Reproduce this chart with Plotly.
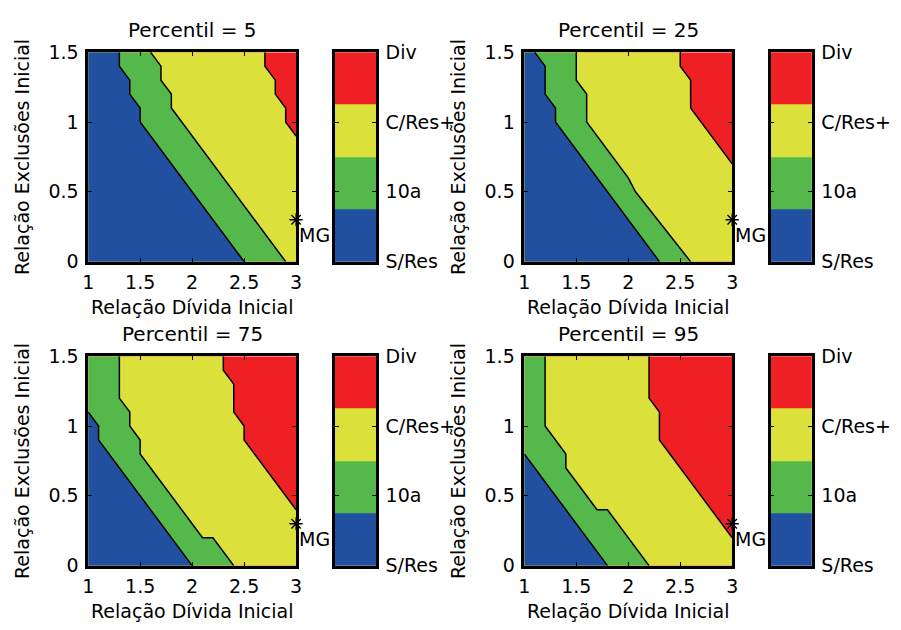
import plotly.graph_objects as go

# Axis extents and categories
x_lim = [1.0, 3.0]
y_lim = [0.0, 1.5]
x_ticks = [1, 1.5, 2, 2.5, 3]
y_ticks = [0, 0.5, 1, 1.5]
level_names = ["S/Res", "10a", "C/Res+", "Div"]
level_values = [1, 2, 3, 4]
level_colors = ["#2150A1", "#55B84A", "#DCE03A", "#EE2024"]
percentis = [5, 25, 75, 95]
mg_x = 3.0
mg_y = 0.3

# Region boundaries (S/Res|10a, 10a|C/Res+, C/Res+|Div) for each percentile
p05_b1_x = [1.3, 1.3, 1.4, 1.4, 1.5, 1.5, 2.5]
p05_b1_y = [1.5, 1.4, 1.3, 1.2, 1.1, 1.0, 0.0]
p05_b2_x = [1.6, 1.7, 1.7, 1.8, 1.8, 2.9]
p05_b2_y = [1.5, 1.4, 1.3, 1.2, 1.1, 0.0]
p05_b3_x = [2.7, 2.7, 2.8, 2.8, 2.9, 2.9, 3.0]
p05_b3_y = [1.5, 1.4, 1.3, 1.2, 1.1, 1.0, 0.9]

p25_b1_x = [1.1, 1.2, 1.2, 1.3, 1.3, 2.3]
p25_b1_y = [1.5, 1.4, 1.2, 1.1, 1.0, 0.0]
p25_b2_x = [1.5, 1.5, 1.6, 1.6, 2.0, 2.07, 2.6]
p25_b2_y = [1.5, 1.3, 1.2, 1.0, 0.6, 0.5, 0.0]
p25_b3_x = [2.5, 2.5, 2.6, 2.6, 3.0]
p25_b3_y = [1.5, 1.4, 1.3, 1.1, 0.7]

p75_b1_x = [1.0, 1.1, 1.1, 2.0]
p75_b1_y = [1.1, 1.0, 0.9, 0.0]
p75_b2_x = [1.3, 1.3, 1.4, 1.4, 1.5, 1.5, 2.1, 2.2, 2.4]
p75_b2_y = [1.5, 1.2, 1.1, 1.0, 0.9, 0.8, 0.2, 0.2, 0.0]
p75_b3_x = [2.3, 2.3, 2.4, 2.4, 2.5, 2.5, 3.0]
p75_b3_y = [1.5, 1.4, 1.3, 1.1, 1.0, 0.9, 0.4]

p95_b1_x = [1.0, 1.8]
p95_b1_y = [0.8, 0.0]
p95_b2_x = [1.2, 1.2, 1.4, 1.4, 1.7, 1.8, 2.2]
p95_b2_y = [1.5, 1.0, 0.8, 0.7, 0.4, 0.4, 0.0]
p95_b3_x = [2.2, 2.2, 2.3, 2.3, 3.0]
p95_b3_y = [1.5, 1.2, 1.1, 0.9, 0.2]

boundaries = [
    [(p05_b1_x, p05_b1_y), (p05_b2_x, p05_b2_y), (p05_b3_x, p05_b3_y)],
    [(p25_b1_x, p25_b1_y), (p25_b2_x, p25_b2_y), (p25_b3_x, p25_b3_y)],
    [(p75_b1_x, p75_b1_y), (p75_b2_x, p75_b2_y), (p75_b3_x, p75_b3_y)],
    [(p95_b1_x, p95_b1_y), (p95_b2_x, p95_b2_y), (p95_b3_x, p95_b3_y)],
]

W, H = 901, 630
FONT = "DejaVu Sans"
FS = 19

# Panel placement in pixels: plot left/right, colorbar left/right, top/bottom
cols = [(83.3, 294.0, 333.3, 375.0), (525.3, 736.0, 775.0, 816.7)]
rows = [(42.7, 259.7), (357.7, 574.7)]


def px_x(p):
    return p / W


def px_y(p):
    return 1 - p / H


def region_left_of(bx, by):
    """Polygon of the area lying left/below a boundary polyline."""
    px, py = list(bx), list(by)
    if px[-1] >= x_lim[1] and py[-1] > y_lim[0]:
        px.append(x_lim[1]); py.append(y_lim[0])
    px.append(x_lim[0]); py.append(y_lim[0])
    if py[0] >= y_lim[1] and px[0] > x_lim[0]:
        px.append(x_lim[0]); py.append(y_lim[1])
    px.append(px[0]); py.append(py[0])
    return px, py


fig = go.Figure()
annotations = []
axis_font = dict(family=FONT, size=FS, color="black")

for k, pct in enumerate(percentis):
    r, c = divmod(k, 2)
    xl, xr, cl, cr = cols[c]
    yt, yb = rows[r]
    ax_i = k + 1
    cb_i = k + 5
    xa, ya = f"x{ax_i}", f"y{ax_i}"
    xc, yc = f"x{cb_i}", f"y{cb_i}"

    # Filled regions: full rectangle in Div colour, then successive regions on top
    rect_x = [x_lim[0], x_lim[1], x_lim[1], x_lim[0], x_lim[0]]
    rect_y = [y_lim[0], y_lim[0], y_lim[1], y_lim[1], y_lim[0]]
    fig.add_trace(go.Scatter(x=rect_x, y=rect_y, fill="toself", mode="lines",
                             line=dict(width=0), fillcolor=level_colors[3],
                             hoverinfo="skip", xaxis=xa, yaxis=ya))
    for j in (2, 1, 0):
        bx, by = boundaries[k][j]
        rx, ry = region_left_of(bx, by)
        fig.add_trace(go.Scatter(x=rx, y=ry, fill="toself", mode="lines",
                                 line=dict(width=0), fillcolor=level_colors[j],
                                 hoverinfo="skip", xaxis=xa, yaxis=ya))
    for j in range(3):
        bx, by = boundaries[k][j]
        fig.add_trace(go.Scatter(x=bx, y=by, mode="lines",
                                 line=dict(color="black", width=1.5),
                                 hoverinfo="skip", xaxis=xa, yaxis=ya))

    # MG marker
    fig.add_trace(go.Scatter(x=[mg_x], y=[mg_y], mode="markers",
                             marker=dict(symbol="asterisk-open", size=11, color="black",
                                         line=dict(color="black", width=1.3)),
                             cliponaxis=False, hoverinfo="skip",
                             xaxis=xa, yaxis=ya))
    annotations.append(dict(x=mg_x, y=mg_y - 0.11, xref=xa, yref=ya, text="MG",
                            showarrow=False, xanchor="left", yanchor="middle",
                            xshift=1, font=axis_font))

    # Colour bar: one heatmap column, cell edges given explicitly
    fig.add_trace(go.Heatmap(z=[[v] for v in level_values],
                             x=[-1, 1], y=[0.9, 1.75, 2.5, 3.25, 4.1],
                             zmin=1, zmax=4, showscale=False,
                             colorscale=[[0, level_colors[0]], [1 / 3, level_colors[1]],
                                         [2 / 3, level_colors[2]], [1, level_colors[3]]],
                             hoverinfo="skip", xaxis=xc, yaxis=yc))

    frame = dict(showline=True, linecolor="black", linewidth=2.5, mirror="ticks",
                 ticks="inside", ticklen=4, tickwidth=1.2, tickcolor="black",
                 showgrid=False, zeroline=False, tickfont=axis_font)
    xname = "xaxis" if ax_i == 1 else f"xaxis{ax_i}"
    yname = "yaxis" if ax_i == 1 else f"yaxis{ax_i}"
    fig.update_layout({
        xname: dict(frame, domain=[px_x(xl), px_x(xr)], range=x_lim,
                    tickvals=x_ticks, anchor=ya, ticklabelstandoff=2),
        yname: dict(frame, domain=[px_y(yb), px_y(yt)], range=y_lim,
                    tickvals=y_ticks, anchor=xa, ticklabelstandoff=3),
        f"xaxis{cb_i}": dict(showline=True, linecolor="black", linewidth=2.5,
                             mirror=True, ticks="", showticklabels=False,
                             showgrid=False, zeroline=False, range=[-0.5, 0.5],
                             domain=[px_x(cl), px_x(cr)], anchor=yc),
        f"yaxis{cb_i}": dict(frame, domain=[px_y(yb), px_y(yt)], range=[1, 4],
                             tickvals=level_values, ticktext=level_names,
                             side="right", anchor=xc, ticklabelstandoff=3),
    })

    cx = px_x((xl + xr) / 2)
    annotations.append(dict(x=cx, y=px_y(yt - 22.5), xref="paper", yref="paper",
                            text=f"Percentil = {pct}", showarrow=False,
                            xanchor="center", yanchor="middle",
                            font=dict(family=FONT, size=20, color="black")))
    annotations.append(dict(x=cx, y=px_y(yb + 46.5), xref="paper", yref="paper",
                            text="Relação Dívida Inicial", showarrow=False,
                            xanchor="center", yanchor="middle", font=axis_font))
    annotations.append(dict(x=px_x(xl - 67), y=px_y((yt + yb) / 2), xref="paper",
                            yref="paper", text="Relação Exclusões Inicial",
                            showarrow=False, textangle=-90, xanchor="center",
                            yanchor="middle", font=axis_font))

fig.update_layout(width=W, height=H, margin=dict(l=0, r=0, t=0, b=0),
                  paper_bgcolor="white", plot_bgcolor="white",
                  showlegend=False, annotations=annotations)

fig.write_html("out.html")
